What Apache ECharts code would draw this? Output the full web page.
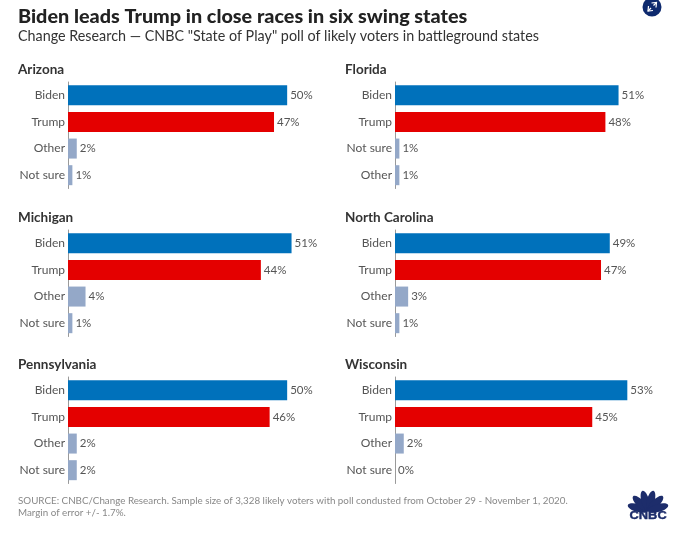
<!DOCTYPE html>
<html><head><meta charset="utf-8">
<style>html,body{margin:0;padding:0;background:#fff}#c{width:680px;height:545px}</style>
<script src="https://cdn.jsdelivr.net/npm/echarts@6/dist/echarts.min.js"></script>
</head><body><div id="c"></div>
<script>
const states = ['Arizona','Florida','Michigan','North Carolina','Pennsylvania','Wisconsin'];
const arizonaLabels = ['Biden','Trump','Other','Not sure'];
const floridaLabels = ['Biden','Trump','Not sure','Other'];
const michiganLabels = ['Biden','Trump','Other','Not sure'];
const northCarolinaLabels = ['Biden','Trump','Other','Not sure'];
const pennsylvaniaLabels = ['Biden','Trump','Other','Not sure'];
const wisconsinLabels = ['Biden','Trump','Other','Not sure'];
const arizonaValues = [50,47,2,1];
const floridaValues = [51,48,1,1];
const michiganValues = [51,44,4,1];
const northCarolinaValues = [49,47,3,1];
const pennsylvaniaValues = [50,46,2,2];
const wisconsinValues = [53,45,2,0];
const labelSets = [arizonaLabels,floridaLabels,michiganLabels,northCarolinaLabels,pennsylvaniaLabels,wisconsinLabels];
const valueSets = [arizonaValues,floridaValues,michiganValues,northCarolinaValues,pennsylvaniaValues,wisconsinValues];
const barColors = ['#0071bb','#e40000','#94a8c8','#94a8c8'];
const FONT = 'Lato, "Open Sans", sans-serif';
const colX = [68,395], rowY = [82,230,377], headX=[18,345], headY=[70,218,365];

const grid=[],xAxis=[],yAxis=[],series=[],graphic=[];
states.forEach((s,i)=>{
  const c=i%2,r=Math.floor(i/2);
  grid.push({left:colX[c],top:rowY[r],width:263,height:106.5,containLabel:false});
  xAxis.push({gridIndex:i,type:'value',min:0,max:60,show:false});
  yAxis.push({gridIndex:i,type:'category',inverse:true,data:labelSets[i],
    axisLine:{show:true,lineStyle:{color:'#9a9a9a',width:1}},axisTick:{show:false},
    axisLabel:{color:'#555',fontSize:12,fontFamily:FONT,margin:3}});
  series.push({type:'bar',xAxisIndex:i,yAxisIndex:i,barWidth:20,silent:true,
    data:valueSets[i].map((v,k)=>({value:v,itemStyle:{color:barColors[k]}})),
    label:{show:true,position:'right',distance:3,formatter:'{c}%',color:'#555',fontSize:11.5,fontFamily:FONT}});
  graphic.push({type:'text',left:headX[c],top:headY[r]-7,style:{text:s,font:`700 13.5px ${FONT}`,fill:'#333'}});
});
graphic.push({type:'text',left:18,top:7,style:{text:'Biden leads Trump in close races in six swing states',font:`900 19.8px ${FONT}`,fill:'#222'}});
graphic.push({type:'text',left:18,top:29,style:{text:'Change Research \u2014 CNBC "State of Play" poll of likely voters in battleground states',font:`400 14.33px ${FONT}`,fill:'#333'}});
graphic.push({type:'text',left:18,top:496,style:{text:'SOURCE: CNBC/Change Research. Sample size of 3,328 likely voters with poll condusted from October 29 - November 1, 2020.',font:`400 9.8px ${FONT}`,fill:'#888'}});
graphic.push({type:'text',left:18,top:508,style:{text:'Margin of error +/- 1.7%.',font:`400 9.8px ${FONT}`,fill:'#888'}});
// expand icon
graphic.push({type:'circle',shape:{cx:652,cy:7,r:9.5},style:{fill:'#0e2a6e'}});
graphic.push({type:'polyline',shape:{points:[[648.5,6],[648,11],[653,10.5]]},style:{stroke:'#fff',fill:'none',lineWidth:1.2}});
graphic.push({type:'line',shape:{x1:648,y1:11,x2:651,y2:8},style:{stroke:'#fff',lineWidth:1.2}});
graphic.push({type:'polyline',shape:{points:[[651.5,3],[656.5,2.5],[656,7.5]]},style:{stroke:'#fff',fill:'none',lineWidth:1.2}});
graphic.push({type:'line',shape:{x1:656.5,y1:2.5,x2:653.5,y2:5.5},style:{stroke:'#fff',lineWidth:1.2}});
// CNBC logo
[-74,-45,-15,15,45,74].forEach(a=>{
  graphic.push({type:'ellipse',shape:{cx:0,cy:-10.5,rx:3.9,ry:10.5},x:648,y:511,rotation:-a*Math.PI/180,style:{fill:'#1d2d6b'}});
});
graphic.push({type:'text',x:629.5,y:510,scaleX:1.17,style:{text:'CNBC',font:`900 11px "Liberation Sans", sans-serif`,fill:'#1d2d6b',stroke:'#1d2d6b',lineWidth:0.4}});

const chart=echarts.init(document.getElementById('c'),null,{renderer:'canvas'});
chart.setOption({animation:false,backgroundColor:'#fff',grid,xAxis,yAxis,series,graphic});
</script></body></html>
